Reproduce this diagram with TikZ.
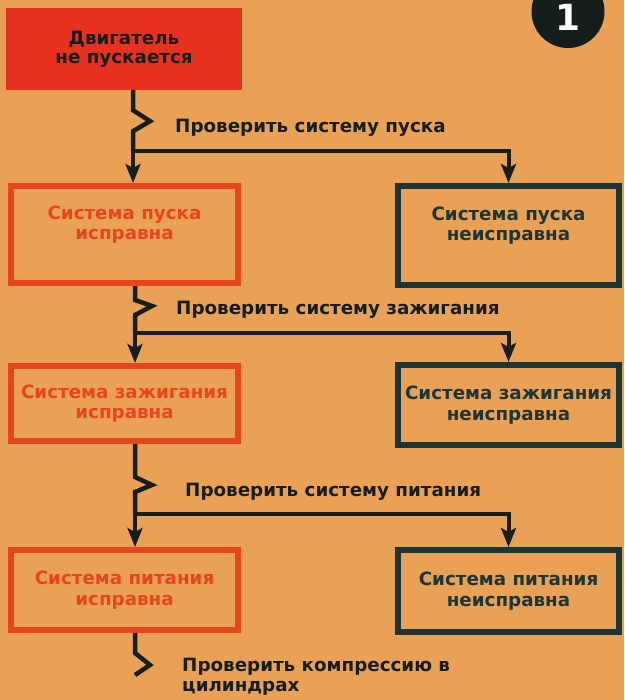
\documentclass[tikz,border=0pt]{standalone}
\usepackage{fontspec}
\setmainfont{DejaVu Sans}
\usepackage{tikz}
\usetikzlibrary{arrows.meta,positioning,calc}
\definecolor{paper}{HTML}{E9A155}
\definecolor{alarm}{HTML}{E6321F}
\definecolor{okred}{HTML}{E8451F}
\definecolor{deepteal}{HTML}{1C3636}
\definecolor{ink}{HTML}{161D1D}
\newcommand{\boxfont}{\fontsize{18.3}{20.5}\selectfont\bfseries}
\newcommand{\topfont}{\fontsize{18.3}{19}\selectfont\bfseries}
\newcommand{\checkfont}{\fontsize{18.3}{20}\selectfont\bfseries}

\tikzset{
  alarmbox/.style={fill=alarm,minimum width=236pt,minimum height=82pt,
    text=ink,font=\topfont,align=center,inner sep=0pt},
  okbox/.style={draw=okred,line width=6pt,minimum width=227pt,
    minimum height=#1,text=okred,font=\boxfont,align=center,inner sep=0pt},
  badbox/.style={draw=deepteal,line width=6pt,minimum width=221pt,
    minimum height=#1,text=deepteal,font=\boxfont,align=center,inner sep=0pt},
  check/.style={text=ink,font=\checkfont,anchor=west,align=left,inner sep=0pt},
  stem/.style={draw=ink,line width=4.5pt},
  down/.style={draw=ink,line width=4pt,-{Stealth[length=19pt,width=15pt,inset=4pt]}}
}

\begin{document}
\begin{tikzpicture}[x=1pt,y=-1pt]
  % Paper
  \fill[paper](0,0)rectangle(624,700);
  \useasboundingbox(0,0)rectangle(624,700);
  % Badge
  \node[circle,fill=ink,minimum size=73pt,inner sep=0pt,text=white,
    font=\fontsize{36}{36}\selectfont\bfseries](badge)at(568,11.5)
    {\raisebox{-6pt}[26pt][0pt]{1}};
  % Start
  \node[alarmbox](engine)at(124,49){Двигатель\\не пускается};
  % Boxes
  \node[okbox=97pt,text depth=24pt](ok1)at(124.5,234.5){Система пуска\\исправна};
  \node[badbox=99pt,text depth=24pt](bad1)at(508.5,235.5){Система пуска\\неисправна};
  \node[okbox=75pt](ok2)at(124.5,403.5){Система зажигания\\исправна};
  \node[badbox=80pt](bad2)at(508.5,405){Система зажигания\\неисправна};
  \node[okbox=80pt](ok3)at(124.5,590){Система питания\\исправна};
  \node[badbox=82pt](bad3)at(508.5,591){Система питания\\неисправна};
  % Checks
  \node[check](chk1)at(175,128){Проверить систему пуска};
  \node[check](chk2)at(176,310){Проверить систему зажигания};
  \node[check](chk3)at(185,492){Проверить систему питания};
  \node[check](chk4)at(182,677){Проверить компрессию в\\цилиндрах};
  % Splits
  \coordinate(s1)at(133,151);
  \coordinate(s2)at(135,333);
  \coordinate(s3)at(135,514);
  % Step 1
  \draw[stem](engine.south-|s1)--++(0,20)--++(17,11)--++(-17,10)--(s1);
  \draw[down](s1)--(s1|-ok1.north);
  \draw[down](s1)-|(bad1.north);
  % Step 2
  \draw[stem](ok1.south-|s2)--++(0,14)--++(17,6)--++(-17,9)--(s2);
  \draw[down](s2)--(s2|-ok2.north);
  \draw[down](s2)-|(bad2.north);
  % Step 3
  \draw[stem](ok2.south-|s3)--++(0,33)--++(17,8)--++(-17,7)--(s3);
  \draw[down](s3)--(s3|-ok3.north);
  \draw[down](s3)-|(bad3.north);
  % Step 4
  \draw[stem](ok3.south-|s3)--++(0,20)--++(15,12)--++(-15,10);
\end{tikzpicture}
\end{document}
